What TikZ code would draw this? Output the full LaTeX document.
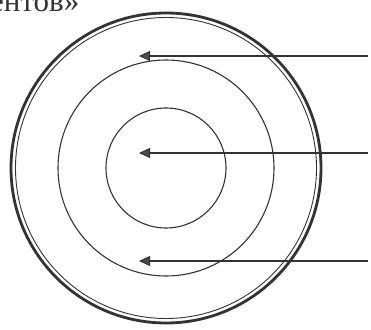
\documentclass[tikz,border=0pt]{standalone}
\usepackage{fontspec}
\setmainfont{Liberation Serif}
\usetikzlibrary{arrows.meta}
\definecolor{ink}{HTML}{333333}
\begin{document}
\begin{tikzpicture}[x=1pt,y=1pt,
  ring/.style={draw=ink,line width=1.1pt},
  pointer/.style={draw=ink,line width=1.1pt,-{Triangle[length=11pt,width=10pt,fill=gray!60!black]}}]
\useasboundingbox (0,0) rectangle (371,329);
\clip (0,0) rectangle (371,329);
\coordinate (c) at (166,161);
\draw[ink,line width=2.8pt] (c) circle[radius=155];
\draw[ink,line width=0.9pt] (c) circle[radius=150.5];
\draw[ring] (c) circle[radius=108];
\draw[ring] (c) circle[radius=60];
\node[anchor=north west,inner sep=0pt,font=\fontsize{31}{31}\selectfont,text=ink] (t) at (-10,332) {ентов»};
\coordinate (s1) at (368,273);
\coordinate (e1) at (139,273);
\coordinate (s2) at (368,176);
\coordinate (e2) at (139,176);
\coordinate (s3) at (368,68);
\coordinate (e3) at (139,68);
\draw[pointer] (s1) -- (e1);
\draw[pointer] (s2) -- (e2);
\draw[pointer] (s3) -- (e3);
\end{tikzpicture}
\end{document}
